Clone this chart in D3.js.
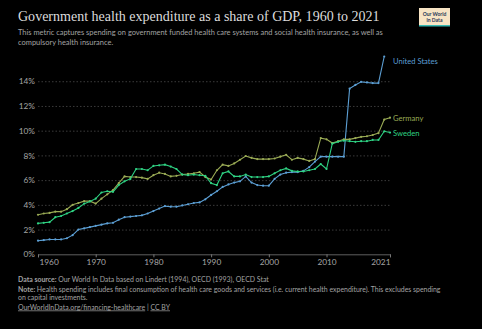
<!DOCTYPE html>
<html>
<head>
<meta charset="utf-8">
<script src="https://cdn.jsdelivr.net/npm/d3@7"></script>
<style>
  body { margin: 0; background: #000; }
  svg { display: block; font-family: Lato, "Noto Sans", sans-serif; }
</style>
</head>
<body>
<div id="chart"></div>
<script>
// valores (% del PIB)
const yearsUS = d3.range(1960, 2021)
const yearsEU = d3.range(1960, 2022)

const usValues = [
  1.1, 1.15, 1.2, 1.2, 1.2, 1.3, 1.55, 2.0, 2.1, 2.2,
  2.3, 2.4, 2.5, 2.55, 2.8, 3.0, 3.05, 3.1, 3.15, 3.3,
  3.5, 3.7, 3.9, 3.85, 3.85, 3.95, 4.05, 4.15, 4.2, 4.45,
  4.8, 5.1, 5.45, 5.65, 5.8, 5.9, 6.3, 5.8, 5.6, 5.55,
  5.55, 6.1, 6.45, 6.6, 6.65, 6.65, 6.75, 7.05, 7.5, 7.9,
  7.9, 7.9, 7.9, 7.9, 13.4, 13.7, 13.95, 13.9, 13.85, 13.85,
  16.0
]
const germanyValues = [
  3.2, 3.3, 3.35, 3.45, 3.45, 3.65, 4.0, 4.15, 4.3, 4.3,
  4.1, 4.5, 4.85, 5.2, 5.75, 6.3, 6.25, 6.25, 6.2, 6.1,
  6.4, 6.6, 6.5, 6.3, 6.35, 6.45, 6.5, 6.55, 6.65, 6.25,
  6.05, 6.8, 7.25, 7.15, 7.35, 7.65, 7.95, 7.8, 7.7, 7.7,
  7.7, 7.75, 7.9, 8.05, 7.65, 7.8, 7.7, 7.55, 7.7, 9.4,
  9.3, 9.0, 9.15, 9.3, 9.3, 9.4, 9.5, 9.55, 9.65, 9.8,
  10.9, 11.05
]
const swedenValues = [
  2.5, 2.55, 2.6, 3.0, 3.1, 3.3, 3.5, 3.75, 4.1, 4.27,
  4.5, 5.0, 5.1, 5.05, 5.6, 5.9, 6.1, 6.9, 6.9, 6.8,
  7.15, 7.2, 7.25, 7.1, 6.9, 6.45, 6.4, 6.45, 6.4, 6.35,
  5.75, 5.6, 6.55, 6.7, 6.3, 6.3, 6.45, 6.25, 6.25, 6.25,
  6.3, 6.55, 6.8, 6.95, 6.75, 6.7, 6.7, 6.8, 6.9, 7.3,
  6.9, 8.95, 9.1, 9.2, 9.15, 9.1, 9.15, 9.15, 9.25, 9.25,
  9.95, 9.85
]

const yTicks = [0, 2, 4, 6, 8, 10, 12, 14]
const xTicks = [1960, 1970, 1980, 1990, 2000, 2010, 2021]

const seriesNames = ['United States', 'Germany', 'Sweden']
const seriesColors = ['#5c9fd4', '#9aab55', '#2fd283']

const w = 482
const h = 329

const series = [
  { name: seriesNames[0], color: seriesColors[0], data: yearsUS.map((y, i) => ({ year: y, value: usValues[i] })) },
  { name: seriesNames[1], color: seriesColors[1], data: yearsEU.map((y, i) => ({ year: y, value: germanyValues[i] })) },
  { name: seriesNames[2], color: seriesColors[2], data: yearsEU.map((y, i) => ({ year: y, value: swedenValues[i] })) }
]

/*ajusta el tamaño de fuente para que el texto ocupe el ancho dado*/
const fitWidth = (sel, target) => {
  const size = parseFloat(sel.style('font-size'))
  const len = sel.node().getComputedTextLength()
  sel.style('font-size', (size * target / len).toFixed(2) + 'px')
}

const svg = d3.select('#chart')
  .append('svg')
  .attr('width', w)
  .attr('height', h)

svg.append('rect').attr('width', w).attr('height', h).attr('fill', '#000')

/*Título y subtítulo*/
const title = svg.append('text')
  .attr('x', 18)
  .attr('y', 21)
  .attr('fill', '#dcdcdc')
  .style('font-family', '"Liberation Serif", "DejaVu Serif", serif')
  .style('font-size', '15px')
  .text('Government health expenditure as a share of GDP, 1960 to 2021')
fitWidth(title, 362)

const sub = svg.append('text')
  .attr('fill', '#a3a3a3')
  .style('font-size', '7.4px')
sub.append('tspan').attr('x', 18).attr('y', 35)
  .text('This metric captures spending on government funded health care systems and social health insurance, as well as')
sub.append('tspan').attr('x', 18).attr('y', 44.5)
  .text('compulsory health insurance.')
fitWidth(sub, 364 + 0)
// la segunda línea cuenta en la longitud total, se corrige con la primera
{
  const size = parseFloat(sub.style('font-size'))
  const first = sub.select('tspan').node().getComputedTextLength()
  sub.style('font-size', (size * 364 / first).toFixed(2) + 'px')
}

/*Logo*/
const logo = svg.append('g').attr('transform', 'translate(419,8)')
logo.append('rect').attr('width', 31).attr('height', 18).attr('fill', '#f7e4c4')
logo.append('rect').attr('y', 17).attr('width', 31).attr('height', 1.5).attr('fill', '#35b9b3')
logo.append('text').attr('x', 15.5).attr('y', 7.6).attr('text-anchor', 'middle')
  .attr('fill', '#1d3557').style('font-size', '5px').style('font-weight', 'bold').text('Our World')
logo.append('text').attr('x', 15.5).attr('y', 13.8).attr('text-anchor', 'middle')
  .attr('fill', '#1d3557').style('font-size', '5px').style('font-weight', 'bold').text('in Data')

/*Escalas*/
const x = d3.scaleLinear().domain([1960, 2021]).range([38, 390])
const y = d3.scaleLinear().domain([0, 16]).range([254.3, 56.5])

/*Grilla y eje Y*/
const yAxis = d3.axisLeft(y)
  .tickValues(yTicks)
  .tickSize(-(390 - 38))
  .tickPadding(3)
  .tickFormat(d => d + '%')

svg.append('g')
  .attr('transform', 'translate(38,0)')
  .call(yAxis)
  .call(g => g.select('.domain').remove())
  .call(g => g.selectAll('.tick line')
    .attr('stroke', '#4a4a4a')
    .attr('stroke-dasharray', '1.5,2')
    .attr('stroke-width', 0.8)
    .filter(d => d === 0).remove())
  .call(g => g.selectAll('.tick text')
    .attr('fill', '#a6a6a6')
    .style('font-size', '8.3px')
    .style('font-family', 'Lato, sans-serif'))

/*Eje X*/
const xAxis = d3.axisBottom(x)
  .tickValues(xTicks)
  .tickSize(3)
  .tickPadding(2)
  .tickFormat(d => d)

svg.append('g')
  .attr('transform', 'translate(0,254.3)')
  .call(xAxis)
  .call(g => g.select('.domain').attr('stroke', '#777').attr('stroke-width', 0.8))
  .call(g => g.selectAll('.tick line').attr('stroke', '#777'))
  .call(g => g.selectAll('.tick text')
    .attr('fill', '#a6a6a6')
    .style('font-size', '8.3px')
    .style('font-family', 'Lato, sans-serif')
    .attr('text-anchor', d => d === 1960 ? 'start' : d === 2021 ? 'end' : 'middle')
    .attr('dx', d => d === 1960 ? 1 : 0))

/*Líneas*/
const line = d3.line().x(d => x(d.year)).y(d => y(d.value))

const gSeries = svg.append('g')
  .selectAll('g')
  .data(series)
  .join('g')

gSeries.append('path')
  .attr('d', d => line(d.data))
  .attr('fill', 'none')
  .attr('stroke', d => d.color)
  .attr('stroke-width', 1.1)

gSeries.selectAll('circle')
  .data(d => d.data.map(p => ({ ...p, color: d.color })))
  .join('circle')
  .attr('cx', d => x(d.year))
  .attr('cy', d => y(d.value))
  .attr('r', 1.1)
  .attr('fill', d => d.color)

/*Etiquetas de series*/
const labelY = { 'United States': 61, 'Germany': 118.5, 'Sweden': 133.5 }
gSeries.append('text')
  .attr('x', 393)
  .attr('y', d => labelY[d.name])
  .attr('dy', '0.35em')
  .attr('fill', d => d.color)
  .style('font-size', '7.6px')
  .text(d => d.name)

/*Pie*/
const foot = svg.append('g').attr('fill', '#a3a3a3').style('font-size', '6.7px')
const f1 = foot.append('text').attr('x', 18).attr('y', 282)
f1.append('tspan').style('font-weight', 'bold').text('Data source: ')
f1.append('tspan').text('Our World In Data based on Lindert (1994), OECD (1993), OECD Stat')
const f2 = foot.append('text').attr('x', 18).attr('y', 291.5)
f2.append('tspan').style('font-weight', 'bold').text('Note: ')
f2.append('tspan').text('Health spending includes final consumption of health care goods and services (i.e. current health expenditure). This excludes spending')
const f3 = foot.append('text').attr('x', 18).attr('y', 300).text('on capital investments.')
const f4 = foot.append('text').attr('x', 18).attr('y', 309.5)
f4.append('tspan').style('text-decoration', 'underline').text('OurWorldInData.org/financing-healthcare')
f4.append('tspan').text(' | ')
f4.append('tspan').style('text-decoration', 'underline').text('CC BY')

// el ancho de la nota define el tamaño de todo el pie
{
  const size = 6.7
  const len = f2.node().getComputedTextLength()
  foot.style('font-size', (size * 422 / len).toFixed(2) + 'px')
}
</script>
</body>
</html>
